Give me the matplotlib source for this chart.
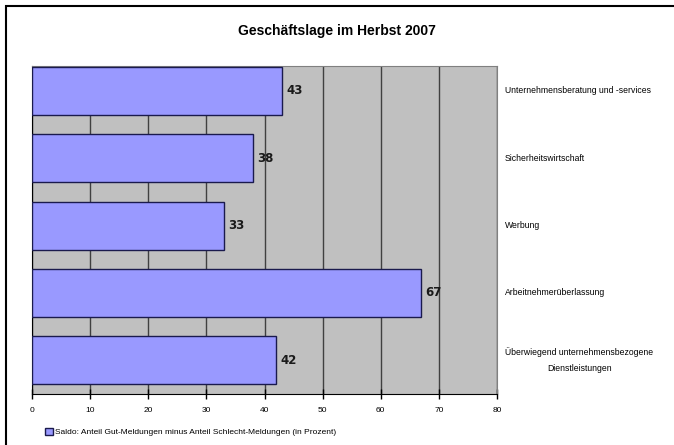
import matplotlib.pyplot as plt
import matplotlib.transforms as mtransforms
from matplotlib.patches import Rectangle

# data
categories = [
    "Unternehmensberatung und -services",
    "Sicherheitswirtschaft",
    "Werbung",
    "Arbeitnehmerüberlassung",
    "Überwiegend unternehmensbezogene\nDienstleistungen",
]
values = [43, 38, 33, 67, 42]
x_ticks = [0, 10, 20, 30, 40, 50, 60, 70, 80]
series_name = "Saldo: Anteil Gut-Meldungen minus Anteil Schlecht-Meldungen (in Prozent)"
title = "Geschäftslage im Herbst 2007"

plt.rcParams["font.family"] = ["Liberation Sans Narrow", "Liberation Sans", "DejaVu Sans"]

W, H = 674, 445
fig = plt.figure(figsize=(W / 100, H / 100), dpi=100)
fig.patch.set_facecolor("white")

# plot area in pixels: left 32, right 497, top 66, bottom 394
ax = fig.add_axes([32 / W, 1 - 394 / H, (497 - 32) / W, (394 - 66) / H])
ax.set_facecolor("#C0C0C0")

pos = list(range(len(categories)))
ax.barh(pos, values, height=0.71, color="#9999FF", edgecolor="#1a1a4d",
        linewidth=1, zorder=3, label=series_name)

ax.set_xlim(0, 80)
ax.set_ylim(4.5, -0.37)
ax.set_xticks(x_ticks)
ax.set_xticklabels([str(t) for t in x_ticks], fontsize=6)
ax.tick_params(axis="x", direction="inout", length=7, width=1, pad=6)
ax.set_yticks([])
ax.grid(axis="x", color="#404040", linewidth=1, zorder=1)
for s in ["top", "right"]:
    ax.spines[s].set_color("#808080")
ax.spines["left"].set_color("black")
ax.spines["bottom"].set_color("black")

# value labels
for p, v in zip(pos, values):
    ax.text(v + 0.7, p, str(v), va="center", ha="left", fontsize=8.5,
            family="DejaVu Sans", fontweight="bold",
            color="#1a1a1a", zorder=4)

# category names on the right side
trans = mtransforms.blended_transform_factory(ax.transAxes, ax.transData)
for p, c in zip(pos, categories):
    ax.text((505 - 32) / (497 - 32), p, c, transform=trans, ha="left",
            va="center", multialignment="center", fontsize=6.2,
            linespacing=2.0)

fig.text(0.5, 1 - 31 / H, title, ha="center", va="center", fontsize=10,
         fontweight="bold")

leg = fig.legend(loc="center left", bbox_to_anchor=(42 / W, 1 - 432 / H),
                 frameon=False, fontsize=6, handlelength=0.9,
                 handleheight=0.9, handletextpad=0.3, borderaxespad=0)

# chart border (only top and left visible in the cropped image)
fig.patches.append(Rectangle((6 / W, -0.2), 1.2, 1.2 - 6 / H,
                             transform=fig.transFigure, fill=False,
                             edgecolor="black", linewidth=1.5))

fig.savefig("out.png", dpi=100)
